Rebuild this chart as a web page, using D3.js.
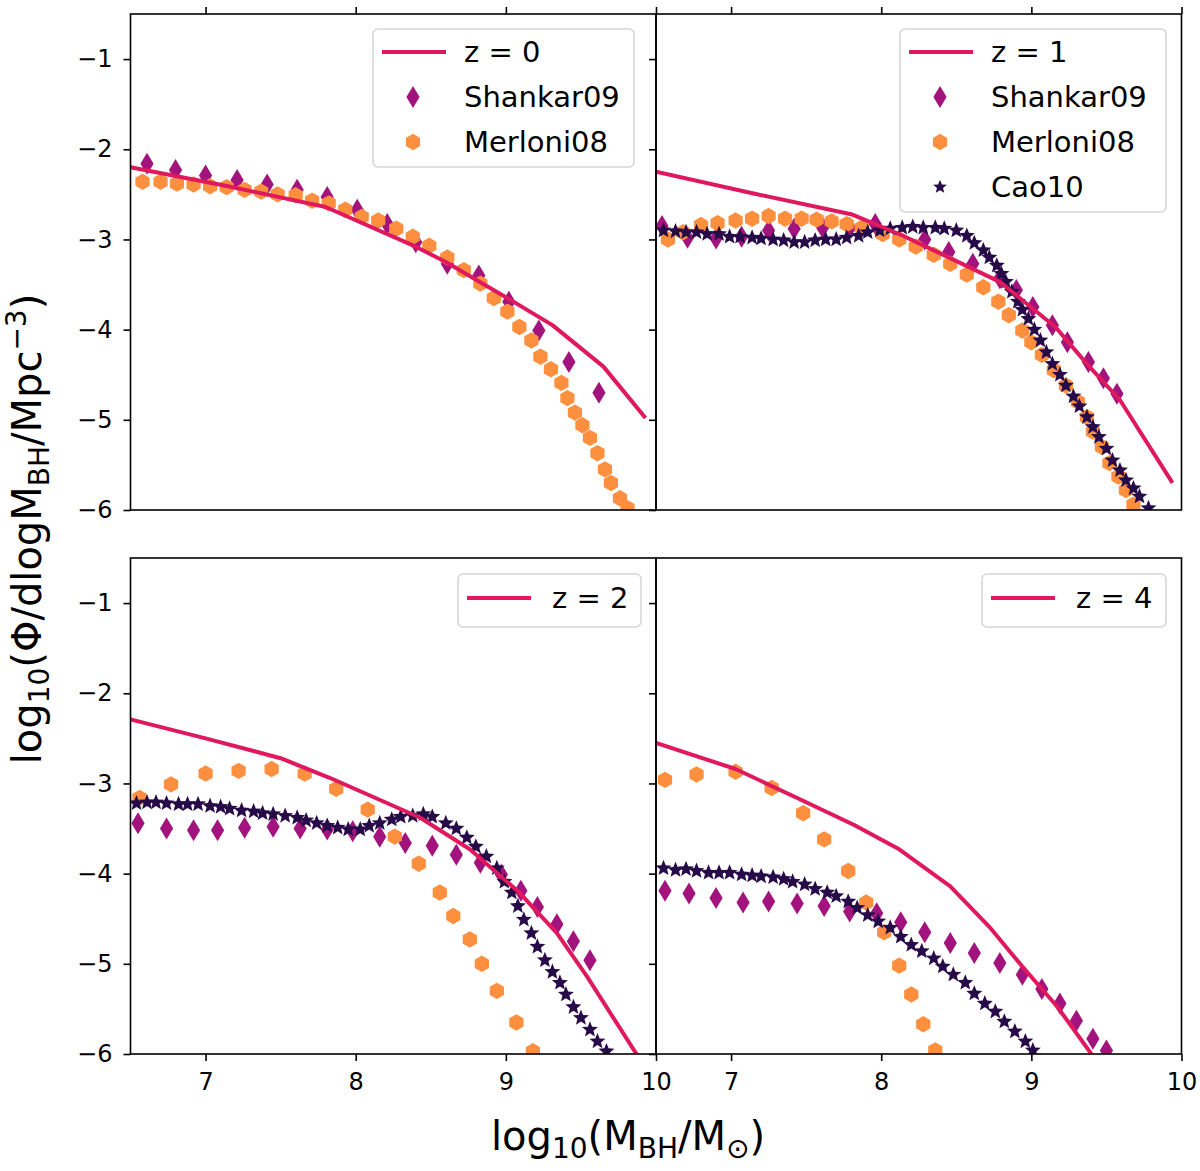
<!DOCTYPE html>
<html>
<head>
<meta charset="utf-8">
<script src="https://cdn.jsdelivr.net/npm/d3@7"></script>
<style>
  body { margin: 0; background: #fff; }
  svg { font-family: "DejaVu Sans", sans-serif; }
</style>
</head>
<body>
<svg id="chart" width="1200" height="1171"></svg>
<script>
// tick values shared by all four panels
var X_TICKS = [7, 8, 9, 10];
var Y_TICKS = [-6, -5, -4, -3, -2, -1];
var PANEL_LABELS = ["z = 0", "z = 1", "z = 2", "z = 4"];
var SERIES_NAMES = ["Shankar09", "Merloni08", "Cao10"];

// model curves, [log M, log phi]
var lineZ0 = [[6.5,-2.20],[7.15,-2.41],[7.8,-2.64],[8.4,-3.08],[8.6,-3.25],[9.02,-3.66],[9.31,-3.95],[9.65,-4.41],[9.93,-4.98]];
var lineZ1 = [[6.5,-2.25],[7.15,-2.49],[7.8,-2.72],[8.12,-2.94],[8.4,-3.16],[8.79,-3.47],[9.16,-3.97],[9.37,-4.38],[9.59,-4.78],[9.94,-5.70]];
var lineZ2 = [[6.5,-2.29],[7.0,-2.50],[7.5,-2.72],[7.83,-2.94],[8.43,-3.38],[8.76,-3.73],[9.09,-4.21],[9.34,-4.66],[9.54,-5.14],[9.87,-6.0]];
var lineZ4 = [[6.5,-2.55],[7.03,-2.84],[7.49,-3.20],[7.82,-3.46],[8.12,-3.73],[8.46,-4.14],[8.72,-4.59],[8.94,-5.03],[9.17,-5.47],[9.40,-6.0]];

// Shankar09 points
var shankarZ0 = [[6.61,-2.16],[6.80,-2.23],[7.00,-2.29],[7.21,-2.34],[7.41,-2.39],[7.61,-2.45],[7.81,-2.53],[8.01,-2.67],[8.21,-2.83],[8.40,-3.03],[8.61,-3.27],[8.82,-3.40],[9.02,-3.69],[9.22,-4.01],[9.42,-4.36],[9.62,-4.70]];
var shankarZ1 = [[6.54,-2.85],[6.71,-2.98],[6.90,-2.99],[7.07,-2.97],[7.25,-2.90],[7.42,-2.88],[7.61,-2.87],[7.79,-2.87],[7.96,-2.83],[8.29,-3.00],[8.45,-3.14],[8.61,-3.27],[8.79,-3.43],[8.90,-3.56],[9.01,-3.75],[9.14,-3.95],[9.24,-4.14],[9.38,-4.36],[9.48,-4.54],[9.57,-4.71]];
var shankarZ2 = [[6.55,-3.44],[6.74,-3.50],[6.92,-3.52],[7.08,-3.52],[7.26,-3.49],[7.45,-3.48],[7.63,-3.50],[7.81,-3.51],[7.98,-3.53],[8.16,-3.59],[8.33,-3.66],[8.51,-3.69],[8.67,-3.79],[8.83,-3.88],[8.97,-4.01],[9.10,-4.19],[9.21,-4.37],[9.34,-4.56],[9.45,-4.75],[9.56,-4.96]];
var shankarZ4 = [[6.56,-4.19],[6.72,-4.22],[6.90,-4.27],[7.08,-4.32],[7.25,-4.31],[7.44,-4.33],[7.62,-4.36],[7.79,-4.42],[7.97,-4.44],[8.13,-4.54],[8.29,-4.65],[8.46,-4.77],[8.62,-4.88],[8.79,-4.99],[8.94,-5.12],[9.07,-5.28],[9.19,-5.44],[9.30,-5.63],[9.41,-5.83],[9.50,-5.96]];

// Merloni08 points
var merloniZ0 = [[6.58,-2.36],[6.70,-2.36],[6.81,-2.38],[6.92,-2.39],[7.03,-2.41],[7.14,-2.42],[7.26,-2.45],[7.37,-2.47],[7.48,-2.50],[7.60,-2.51],[7.71,-2.57],[7.82,-2.60],[7.93,-2.67],[8.04,-2.75],[8.15,-2.79],[8.27,-2.88],[8.38,-2.97],[8.49,-3.07],[8.61,-3.20],[8.72,-3.34],[8.83,-3.49],[8.92,-3.65],[9.01,-3.80],[9.09,-3.97],[9.17,-4.12],[9.23,-4.30],[9.30,-4.44],[9.37,-4.59],[9.41,-4.76],[9.46,-4.92],[9.51,-5.06],[9.56,-5.20],[9.61,-5.37],[9.66,-5.55],[9.70,-5.70],[9.76,-5.87],[9.81,-5.98]];
var merloniZ1 = [[6.58,-3.00],[6.68,-2.92],[6.80,-2.84],[6.91,-2.82],[7.03,-2.79],[7.14,-2.77],[7.25,-2.74],[7.36,-2.77],[7.47,-2.77],[7.57,-2.78],[7.67,-2.80],[7.77,-2.83],[7.87,-2.87],[8.01,-2.94],[8.12,-3.00],[8.23,-3.08],[8.35,-3.17],[8.46,-3.27],[8.57,-3.39],[8.68,-3.53],[8.78,-3.69],[8.85,-3.84],[8.94,-4.01],[9.00,-4.14],[9.07,-4.28],[9.15,-4.45],[9.23,-4.62],[9.31,-4.80],[9.37,-4.97],[9.41,-5.13],[9.47,-5.30],[9.52,-5.48],[9.58,-5.63],[9.63,-5.78],[9.68,-5.94]];
var merloniZ2 = [[6.56,-3.16],[6.77,-3.01],[7.00,-2.89],[7.22,-2.86],[7.44,-2.84],[7.66,-2.89],[7.87,-3.06],[8.08,-3.29],[8.26,-3.59],[8.42,-3.89],[8.56,-4.21],[8.65,-4.47],[8.76,-4.73],[8.84,-5.00],[8.94,-5.30],[9.07,-5.65],[9.18,-5.97]];
var merloniZ4 = [[6.56,-2.96],[6.77,-2.90],[7.03,-2.87],[7.27,-3.05],[7.48,-3.33],[7.62,-3.62],[7.78,-3.97],[7.90,-4.32],[8.02,-4.65],[8.12,-5.02],[8.20,-5.34],[8.28,-5.67],[8.36,-5.96]];

// Cao10 points (no z = 0 set)
var caoZ1 = [[6.55,-2.90],[6.63,-2.91],[6.70,-2.92],[6.77,-2.92],[6.84,-2.94],[6.92,-2.94],[6.99,-2.97],[7.06,-2.97],[7.14,-2.98],[7.20,-2.99],[7.28,-3.00],[7.35,-3.01],[7.42,-3.03],[7.49,-3.03],[7.56,-3.01],[7.63,-3.00],[7.70,-3.00],[7.77,-2.98],[7.85,-2.96],[7.91,-2.92],[7.99,-2.90],[8.06,-2.88],[8.14,-2.87],[8.21,-2.86],[8.28,-2.87],[8.36,-2.87],[8.42,-2.88],[8.50,-2.90],[8.57,-2.96],[8.62,-3.04],[8.68,-3.12],[8.72,-3.20],[8.77,-3.29],[8.80,-3.38],[8.83,-3.47],[8.87,-3.58],[8.91,-3.69],[8.94,-3.78],[8.98,-3.88],[9.02,-4.00],[9.06,-4.12],[9.10,-4.25],[9.14,-4.38],[9.19,-4.50],[9.23,-4.62],[9.28,-4.74],[9.32,-4.85],[9.37,-4.97],[9.41,-5.08],[9.45,-5.19],[9.50,-5.32],[9.54,-5.45],[9.59,-5.56],[9.63,-5.67],[9.68,-5.76],[9.72,-5.85],[9.78,-5.98]];
var caoZ2 = [[6.54,-3.22],[6.61,-3.21],[6.67,-3.21],[6.74,-3.22],[6.82,-3.23],[6.88,-3.23],[6.95,-3.23],[7.03,-3.25],[7.10,-3.26],[7.16,-3.28],[7.24,-3.30],[7.32,-3.31],[7.38,-3.33],[7.45,-3.34],[7.53,-3.36],[7.61,-3.38],[7.67,-3.41],[7.74,-3.44],[7.81,-3.47],[7.88,-3.49],[7.95,-3.51],[8.03,-3.51],[8.09,-3.47],[8.16,-3.44],[8.24,-3.40],[8.30,-3.37],[8.38,-3.36],[8.45,-3.34],[8.51,-3.37],[8.60,-3.44],[8.67,-3.50],[8.74,-3.60],[8.80,-3.70],[8.87,-3.81],[8.94,-3.94],[8.99,-4.09],[9.04,-4.21],[9.08,-4.36],[9.12,-4.51],[9.17,-4.66],[9.21,-4.81],[9.26,-4.96],[9.31,-5.09],[9.36,-5.21],[9.40,-5.34],[9.45,-5.48],[9.50,-5.60],[9.56,-5.73],[9.61,-5.86],[9.67,-5.97]];
var caoZ4 = [[6.55,-3.94],[6.63,-3.96],[6.70,-3.95],[6.77,-3.97],[6.85,-3.99],[6.92,-3.99],[6.99,-3.99],[7.07,-4.01],[7.14,-4.02],[7.20,-4.03],[7.28,-4.04],[7.35,-4.06],[7.41,-4.09],[7.49,-4.12],[7.56,-4.17],[7.64,-4.21],[7.70,-4.25],[7.78,-4.31],[7.84,-4.38],[7.91,-4.46],[7.98,-4.53],[8.06,-4.60],[8.13,-4.70],[8.20,-4.79],[8.27,-4.86],[8.35,-4.94],[8.41,-5.03],[8.48,-5.12],[8.56,-5.21],[8.62,-5.33],[8.69,-5.44],[8.76,-5.53],[8.82,-5.64],[8.89,-5.75],[8.96,-5.86],[9.01,-5.96]];

var COLORS = {line: "#e0195e", shankar: "#a3137d", merloni: "#fd8f3f", cao: "#260b48"};

var svg = d3.select("#chart");
var pw = 525.5, ph = 496;

var x = d3.scaleLinear().domain([6.5, 10]).range([0, pw]);
var y = d3.scaleLinear().domain([-6, -0.5]).range([ph, 0]);

// marker shapes in the style of matplotlib 'd', 'h' and '*'
var thinDiamond = {draw: function(ctx, h) {
  var w = h * 0.3;
  ctx.moveTo(0, -h / 2); ctx.lineTo(w, 0); ctx.lineTo(0, h / 2); ctx.lineTo(-w, 0); ctx.closePath();
}};
var hexagon = {draw: function(ctx, r) {
  for (var i = 0; i < 6; i++) {
    var a = -Math.PI / 2 + i * Math.PI / 3;
    if (i === 0) ctx.moveTo(r * Math.cos(a), r * Math.sin(a));
    else ctx.lineTo(r * Math.cos(a), r * Math.sin(a));
  }
  ctx.closePath();
}};
var star5 = {draw: function(ctx, r) {
  var ri = r * 0.44;
  for (var i = 0; i < 10; i++) {
    var a = -Math.PI / 2 + i * Math.PI / 5, rr = i % 2 ? ri : r;
    if (i === 0) ctx.moveTo(rr * Math.cos(a), rr * Math.sin(a));
    else ctx.lineTo(rr * Math.cos(a), rr * Math.sin(a));
  }
  ctx.closePath();
}};
var MARKERS = {
  shankar: d3.symbol().type(thinDiamond).size(22),
  merloni: d3.symbol().type(hexagon).size(8.2),
  cao: d3.symbol().type(star5).size(8.4)
};
var LEGEND_MARKERS = {
  shankar: d3.symbol().type(thinDiamond).size(22),
  merloni: d3.symbol().type(hexagon).size(8.2),
  cao: d3.symbol().type(star5).size(7.2)
};

var panels = [
  {label: PANEL_LABELS[0], line: lineZ0, shankar: shankarZ0, merloni: merloniZ0, cao: null,
   ox: 130.5, oy: 14, yLabels: true, top: true, legend: {x: 373, y: 29, w: 261, rows: 3}},
  {label: PANEL_LABELS[1], line: lineZ1, shankar: shankarZ1, merloni: merloniZ1, cao: caoZ1,
   ox: 656, oy: 14, yLabels: false, top: true, legend: {x: 900, y: 29, w: 266, rows: 4}},
  {label: PANEL_LABELS[2], line: lineZ2, shankar: shankarZ2, merloni: merloniZ2, cao: caoZ2,
   ox: 130.5, oy: 558, yLabels: true, top: false, legend: {x: 458, y: 574, w: 183, rows: 1}},
  {label: PANEL_LABELS[3], line: lineZ4, shankar: shankarZ4, merloni: merloniZ4, cao: caoZ4,
   ox: 656, oy: 558, yLabels: false, top: false, legend: {x: 982, y: 574, w: 184, rows: 1}}
];

var line = d3.line().x(function(d) { return x(d[0]); }).y(function(d) { return y(d[1]); });

panels.forEach(function(p, i) {
  var g = svg.append("g").attr("transform", "translate(" + p.ox + "," + p.oy + ")");

  g.append("clipPath").attr("id", "clip" + i)
    .append("rect").attr("width", pw).attr("height", ph);

  var plot = g.append("g").attr("clip-path", "url(#clip" + i + ")");

  ["shankar", "merloni", "cao"].forEach(function(key) {
    if (!p[key]) return;
    plot.append("g").selectAll("path")
      .data(p[key])
      .enter().append("path")
        .attr("transform", function(d) { return "translate(" + x(d[0]) + "," + y(d[1]) + ")"; })
        .attr("d", MARKERS[key])
        .attr("fill", COLORS[key]);
  });

  plot.append("path")
    .datum(p.line)
    .attr("fill", "none")
    .attr("stroke", COLORS.line)
    .attr("stroke-width", 4)
    .attr("stroke-linejoin", "round")
    .attr("d", line);

  // y axis
  g.append("g")
    .attr("class", "y axis")
    .call(d3.axisLeft(y).tickValues(Y_TICKS).tickSize(7).tickPadding(11)
      .tickFormat(p.yLabels ? d3.format("d") : ""));

  // x axis on the bottom row, bare top ticks on the top row
  if (p.top) {
    g.append("g").attr("class", "x axis")
      .call(d3.axisTop(x).tickValues(X_TICKS).tickSize(7).tickFormat(""));
  } else {
    g.append("g").attr("class", "x axis")
      .attr("transform", "translate(0," + ph + ")")
      .call(d3.axisBottom(x).tickValues(X_TICKS).tickSize(7).tickPadding(12).tickFormat(d3.format("d")));
  }

  g.selectAll(".axis .domain").remove();
  g.selectAll(".axis line").attr("stroke", "#000").attr("stroke-width", 1.6);
  g.selectAll(".axis text").attr("font-size", 24).attr("fill", "#000")
    .attr("font-family", "DejaVu Sans, sans-serif");

  g.append("rect")
    .attr("width", pw).attr("height", ph)
    .attr("fill", "none").attr("stroke", "#000").attr("stroke-width", 1.6);

  // legend
  var L = p.legend;
  var entries = [{kind: "line", text: p.label}];
  if (L.rows > 1) {
    entries.push({kind: "shankar", text: SERIES_NAMES[0]});
    entries.push({kind: "merloni", text: SERIES_NAMES[1]});
  }
  if (L.rows > 3) entries.push({kind: "cao", text: SERIES_NAMES[2]});

  var lg = svg.append("g").attr("class", "legend");
  lg.append("rect")
    .attr("x", L.x).attr("y", L.y)
    .attr("width", L.w).attr("height", 23 + (L.rows - 1) * 45 + (L.rows > 1 ? 25 : 30))
    .attr("rx", 5)
    .attr("fill", "#fff").attr("fill-opacity", 0.8)
    .attr("stroke", "#d6d6d6").attr("stroke-width", 1.6);

  var row = lg.selectAll(".row")
    .data(entries)
    .enter().append("g")
      .attr("class", "row")
      .attr("transform", function(d, j) { return "translate(" + L.x + "," + (L.y + 23 + (L.rows > 1 ? 0 : 1) + j * 45) + ")"; });

  row.each(function(d) {
    var r = d3.select(this);
    if (d.kind === "line") {
      r.append("line").attr("x1", 9).attr("x2", 73).attr("y1", 0).attr("y2", 0)
        .attr("stroke", COLORS.line).attr("stroke-width", 4);
    } else {
      r.append("path").attr("transform", "translate(40,0)")
        .attr("d", LEGEND_MARKERS[d.kind]())
        .attr("fill", COLORS[d.kind]);
    }
  });

  row.append("text")
    .attr("x", L.rows > 1 ? 91 : 94)
    .attr("dy", "0.36em")
    .attr("font-size", 29)
    .attr("fill", "#000")
    .text(function(d) { return d.text; });
});

// shared axis labels
var xl = svg.append("text")
  .attr("x", 628).attr("y", 1150)
  .attr("text-anchor", "middle")
  .attr("font-size", 40)
  .attr("fill", "#000");
xl.append("tspan").text("log");
xl.append("tspan").attr("font-size", 28).attr("dy", 8).text("10");
xl.append("tspan").attr("dy", -8).text("(M");
xl.append("tspan").attr("font-size", 28).attr("dy", 8).text("BH");
xl.append("tspan").attr("dy", -8).text("/M");
xl.append("tspan").attr("font-size", 28).attr("dy", 8).text("\u2299");
xl.append("tspan").attr("dy", -8).text(")");

var yl = svg.append("text")
  .attr("transform", "translate(41,529) rotate(-90)")
  .attr("text-anchor", "middle")
  .attr("font-size", 40)
  .attr("fill", "#000");
yl.append("tspan").text("log");
yl.append("tspan").attr("font-size", 28).attr("dy", 8).text("10");
yl.append("tspan").attr("dy", -8).text("(\u03a6/dlogM");
yl.append("tspan").attr("font-size", 28).attr("dy", 8).text("BH");
yl.append("tspan").attr("dy", -8).text("/Mpc");
yl.append("tspan").attr("font-size", 28).attr("dy", -15).text("\u22123");
yl.append("tspan").attr("dy", 15).text(")");
</script>
</body>
</html>
